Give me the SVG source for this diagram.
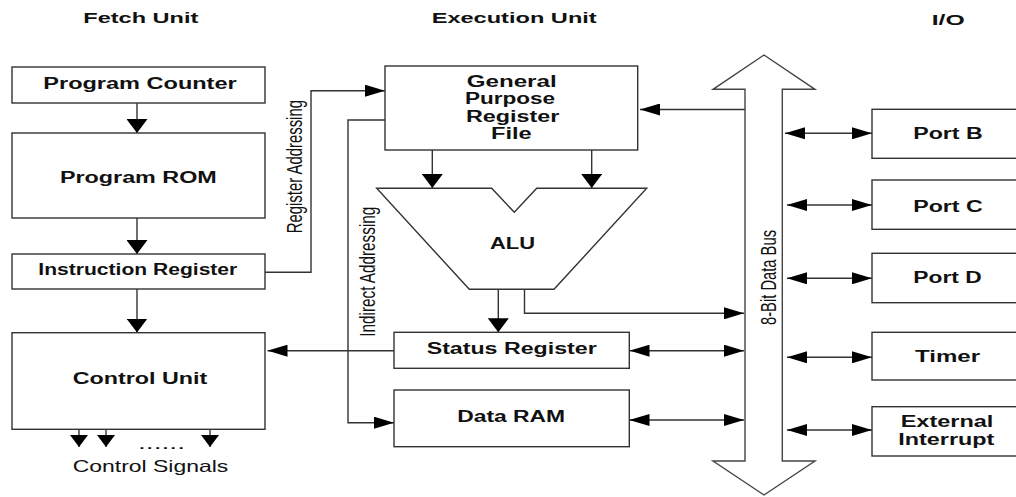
<svg xmlns="http://www.w3.org/2000/svg" width="1016" height="497" viewBox="0 0 1016 497">
  <style>
    .box { fill: #ffffff; stroke: #333333; stroke-width: 1.4; }
    .wire { fill: none; stroke: #333333; stroke-width: 1.4; }
    .bus { fill: #ffffff; stroke: #444444; stroke-width: 1.4; }
    .lbl { font-family: "Liberation Sans", Arial, sans-serif; font-weight: bold; font-size: 16px; fill: #111111; }
    .head { font-family: "Liberation Sans", Arial, sans-serif; font-weight: bold; font-size: 15.5px; fill: #111111; }
    .note { font-family: "Liberation Sans", Arial, sans-serif; font-weight: normal; font-size: 16.5px; fill: #111111; }
    .vnote { font-family: "Liberation Sans", Arial, sans-serif; font-weight: normal; font-size: 22px; fill: #111111; }
  </style>
  <defs>
    <!-- horizontal arrowhead: long and flat -->
    <marker id="ah" viewBox="0 0 20 12" refX="20" refY="6" markerWidth="20" markerHeight="12" markerUnits="userSpaceOnUse" orient="auto-start-reverse">
      <path d="M0,0 L20,6 L0,12 z" fill="#000000"/>
    </marker>
    <!-- vertical arrowhead: short and wide -->
    <marker id="av" viewBox="0 0 14 21" refX="14" refY="10.5" markerWidth="14" markerHeight="21" markerUnits="userSpaceOnUse" orient="auto">
      <path d="M0,0 L14,10.5 L0,21 z" fill="#000000"/>
    </marker>
    <!-- small arrowhead for the control signal outputs -->
    <marker id="avs" viewBox="0 0 12 18" refX="12" refY="9" markerWidth="12" markerHeight="18" markerUnits="userSpaceOnUse" orient="auto">
      <path d="M0,0 L12,9 L0,18 z" fill="#000000"/>
    </marker>
  </defs>

  <rect width="1016" height="497" fill="#ffffff"/>

  <!-- column headings -->
  <text class="head" x="83.3" y="22.7" textLength="115" lengthAdjust="spacingAndGlyphs">Fetch Unit</text>
  <text class="head" x="431.7" y="22.7" textLength="165" lengthAdjust="spacingAndGlyphs">Execution Unit</text>
  <text class="head" x="931.7" y="24.5" textLength="33" lengthAdjust="spacingAndGlyphs">I/O</text>

  <!-- connectors -->
  <g id="connectors">
    <line class="wire" x1="137" y1="103" x2="137" y2="133" marker-end="url(#av)"/>
    <line class="wire" x1="137" y1="218" x2="137" y2="254" marker-end="url(#av)"/>
    <line class="wire" x1="137" y1="289" x2="137" y2="332.5" marker-end="url(#av)"/>
    <polyline class="wire" points="265,272.3 311,272.3 311,90.7 385,90.7" marker-end="url(#ah)"/>
    <polyline class="wire" points="385,120 348,120 348,422.7 394,422.7" marker-end="url(#ah)"/>
    <line class="wire" x1="394" y1="350.7" x2="267.5" y2="350.7" marker-end="url(#ah)"/>
    <line class="wire" x1="432.3" y1="150" x2="432.3" y2="188" marker-end="url(#av)"/>
    <line class="wire" x1="591.7" y1="150" x2="591.7" y2="188" marker-end="url(#av)"/>
    <line class="wire" x1="498.3" y1="289.3" x2="498.3" y2="332.3" marker-end="url(#av)"/>
    <polyline class="wire" points="524.5,289.3 524.5,313.3 744,313.3" marker-end="url(#ah)"/>
    <line class="wire" x1="629.5" y1="350.7" x2="744" y2="350.7" marker-start="url(#ah)" marker-end="url(#ah)"/>
    <line class="wire" x1="629.5" y1="420" x2="744" y2="420" marker-start="url(#ah)" marker-end="url(#ah)"/>
    <line class="wire" x1="745" y1="109.5" x2="640" y2="109.5" marker-end="url(#ah)"/>
    <line class="wire" x1="785" y1="133.3" x2="872" y2="133.3" marker-start="url(#ah)" marker-end="url(#ah)"/>
    <line class="wire" x1="787" y1="205" x2="872" y2="205" marker-start="url(#ah)" marker-end="url(#ah)"/>
    <line class="wire" x1="787" y1="278.3" x2="872" y2="278.3" marker-start="url(#ah)" marker-end="url(#ah)"/>
    <line class="wire" x1="787" y1="357.3" x2="872" y2="357.3" marker-start="url(#ah)" marker-end="url(#ah)"/>
    <line class="wire" x1="787" y1="430" x2="872" y2="430" marker-start="url(#ah)" marker-end="url(#ah)"/>
    <line class="wire" x1="79" y1="429.3" x2="79" y2="447" marker-end="url(#avs)"/>
    <line class="wire" x1="106" y1="429.3" x2="106" y2="447" marker-end="url(#avs)"/>
    <line class="wire" x1="210" y1="429.3" x2="210" y2="447" marker-end="url(#avs)"/>
  </g>

  <!-- connector labels -->
  <text class="vnote" transform="translate(301.5,233.3) rotate(-90)" textLength="133.3" lengthAdjust="spacingAndGlyphs">Register Addressing</text>
  <text class="vnote" transform="translate(374.5,336.7) rotate(-90)" textLength="130" lengthAdjust="spacingAndGlyphs">Indirect Addressing</text>
  <text class="note" x="138" y="449" textLength="47" lengthAdjust="spacingAndGlyphs">......</text>
  <text class="note" x="72.7" y="472.3" textLength="155.6" lengthAdjust="spacingAndGlyphs">Control Signals</text>

  <!-- fetch unit -->
  <g id="program-counter">
    <rect class="box" x="12" y="67" width="253" height="36"/>
    <text class="lbl" x="43.3" y="89.3" textLength="193.4" lengthAdjust="spacingAndGlyphs">Program Counter</text>
  </g>
  <g id="program-rom">
    <rect class="box" x="12" y="133" width="253" height="85"/>
    <text class="lbl" x="60" y="182.7" textLength="156.7" lengthAdjust="spacingAndGlyphs">Program ROM</text>
  </g>
  <g id="instruction-register">
    <rect class="box" x="12" y="254" width="253" height="35"/>
    <text class="lbl" x="38.3" y="275" textLength="199" lengthAdjust="spacingAndGlyphs">Instruction Register</text>
  </g>
  <g id="control-unit">
    <rect class="box" x="12" y="332.7" width="253" height="96.6"/>
    <text class="lbl" x="72.7" y="384" textLength="134.6" lengthAdjust="spacingAndGlyphs">Control Unit</text>
  </g>

  <!-- execution unit -->
  <g id="register-file">
    <rect class="box" x="385" y="66" width="252.7" height="84"/>
    <text class="lbl" x="466.7" y="86.7" textLength="90" lengthAdjust="spacingAndGlyphs">General</text>
    <text class="lbl" x="465" y="104.3" textLength="90" lengthAdjust="spacingAndGlyphs">Purpose</text>
    <text class="lbl" x="466" y="122.3" textLength="93.3" lengthAdjust="spacingAndGlyphs">Register</text>
    <text class="lbl" x="491" y="139.3" textLength="40.7" lengthAdjust="spacingAndGlyphs">File</text>
  </g>
  <g id="alu">
    <polygon class="box" points="376.7,188.3 491.7,188.3 514.3,212.3 536.7,188.3 646.7,188.3 554,289.3 469.3,289.3"/>
    <text class="lbl" x="490" y="249.3" textLength="45" lengthAdjust="spacingAndGlyphs">ALU</text>
  </g>
  <g id="status-register">
    <rect class="box" x="394" y="332.3" width="235.3" height="36"/>
    <text class="lbl" x="426.7" y="354" textLength="170" lengthAdjust="spacingAndGlyphs">Status Register</text>
  </g>
  <g id="data-ram">
    <rect class="box" x="394" y="390" width="235.3" height="56.7"/>
    <text class="lbl" x="457.3" y="422.3" textLength="107.7" lengthAdjust="spacingAndGlyphs">Data RAM</text>
  </g>

  <!-- data bus -->
  <g id="data-bus">
    <polygon class="bus" points="764,55 815,89.3 782.3,89.3 782.3,461 815,461 764,495 713,461 745,461 745,89.3 713,89.3"/>
    <text class="vnote" transform="translate(776,325) rotate(-90)" textLength="95" lengthAdjust="spacingAndGlyphs">8-Bit Data Bus</text>
  </g>

  <!-- I/O -->
  <g id="port-b">
    <rect class="box" x="872" y="109.3" width="160" height="49"/>
    <text class="lbl" x="913.3" y="139" textLength="69.4" lengthAdjust="spacingAndGlyphs">Port B</text>
  </g>
  <g id="port-c">
    <rect class="box" x="872" y="180" width="160" height="49.3"/>
    <text class="lbl" x="913.3" y="211.7" textLength="69.4" lengthAdjust="spacingAndGlyphs">Port C</text>
  </g>
  <g id="port-d">
    <rect class="box" x="872" y="253.3" width="160" height="49.4"/>
    <text class="lbl" x="913.3" y="283.3" textLength="68.3" lengthAdjust="spacingAndGlyphs">Port D</text>
  </g>
  <g id="timer">
    <rect class="box" x="872" y="332.3" width="160" height="47.7"/>
    <text class="lbl" x="915" y="361.7" textLength="65" lengthAdjust="spacingAndGlyphs">Timer</text>
  </g>
  <g id="external-interrupt">
    <rect class="box" x="872" y="406.7" width="160" height="49.3"/>
    <text class="lbl" x="900.7" y="426.7" textLength="92.6" lengthAdjust="spacingAndGlyphs">External</text>
    <text class="lbl" x="898.3" y="444.5" textLength="96" lengthAdjust="spacingAndGlyphs">Interrupt</text>
  </g>
</svg>
